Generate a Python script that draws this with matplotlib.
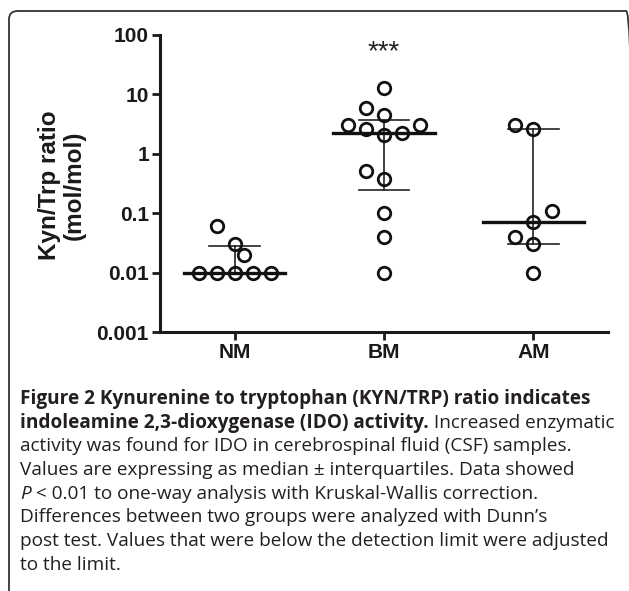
import matplotlib
matplotlib.use("Agg")
import matplotlib.pyplot as plt
from matplotlib.patches import FancyBboxPatch

# groups and raw values (mol/mol)
groups = ["NM", "BM", "AM"]
nm_vals = [0.06, 0.03, 0.02, 0.01, 0.01, 0.01, 0.01, 0.01]
nm_offs = [-0.12, 0.0, 0.065, -0.24, -0.12, 0.0, 0.12, 0.24]
bm_vals = [13, 6, 4.5, 3.0, 2.6, 2.1, 2.2, 3.0, 0.52, 0.38, 0.1, 0.04, 0.01]
bm_offs = [0.0, -0.12, 0.0, -0.24, -0.12, 0.0, 0.12, 0.24, -0.12, 0.0, 0.0, 0.0, 0.0]
am_vals = [3.1, 2.6, 0.11, 0.07, 0.04, 0.03, 0.01]
am_offs = [-0.12, 0.0, 0.125, 0.0, -0.12, 0.0, 0.0]

medians = [0.01, 2.26, 0.07]
q1 = [0.01, 0.25, 0.03]
q3 = [0.028, 3.7, 2.6]

yticks = [0.001, 0.01, 0.1, 1, 10, 100]
yticklabels = ["0.001", "0.01", "0.1", "1", "10", "100"]

W, H = 629, 591
fig = plt.figure(figsize=(W / 100, H / 100), dpi=100)

# rounded frame
box = FancyBboxPatch((9 / W, -20 / H), 626 / W, (H + 20 - 11) / H,
                     boxstyle="round,pad=0,rounding_size=0.014",
                     transform=fig.transFigure, fill=False,
                     edgecolor="#333333", linewidth=1.3, clip_on=False)
fig.patches.append(box)

ax = fig.add_axes([160 / W, (H - 332) / H, (608 - 160) / W, (332 - 35) / H])
ax.set_yscale("log")
ax.set_ylim(0.001, 100)
ax.set_xlim(0.5, 3.5)

allvals = [nm_vals, bm_vals, am_vals]
alloffs = [nm_offs, bm_offs, am_offs]
for i in range(3):
    x0 = i + 1
    # median / interquartile lines
    ax.plot([x0, x0], [q1[i], q3[i]], color="#222222", lw=1.2, zorder=2)
    ax.plot([x0 - 0.17, x0 + 0.17], [q1[i], q1[i]], color="#222222", lw=1.2, zorder=2)
    ax.plot([x0 - 0.17, x0 + 0.17], [q3[i], q3[i]], color="#222222", lw=1.2, zorder=2)
    ax.plot([x0 - 0.34, x0 + 0.34], [medians[i], medians[i]], color="#111111", lw=2.4, zorder=2)
    xs = [x0 + o for o in alloffs[i]]
    ax.plot(xs, allvals[i], linestyle="none", marker="o", markersize=9,
            markerfacecolor="none", markeredgecolor="#111111", markeredgewidth=2.0, zorder=3)

ax.text(2, 52, "***", ha="center", va="center", fontsize=20, family="Liberation Sans",
        color="#222222")

for s in ["top", "right"]:
    ax.spines[s].set_visible(False)
for s in ["left", "bottom"]:
    ax.spines[s].set_linewidth(2.2)
    ax.spines[s].set_color("#1a1a1a")

ax.set_yticks(yticks)
ax.set_yticklabels(yticklabels)
ax.yaxis.set_minor_locator(matplotlib.ticker.NullLocator())
ax.set_xticks([1, 2, 3])
ax.set_xticklabels(groups)
ax.tick_params(axis="both", length=6, width=2.0, color="#1a1a1a", pad=2)
for lab in ax.get_xticklabels() + ax.get_yticklabels():
    lab.set_fontfamily("Liberation Sans")
    lab.set_fontweight("bold")
    lab.set_fontsize(15)
    lab.set_color("#1a1a1a")

fig.text(62 / W, 1 - 185 / H, "Kyn/Trp ratio\n(mol/mol)", rotation=90, ha="center",
         va="center", fontsize=17.5, fontweight="bold", family="Liberation Sans",
         color="#1a1a1a", linespacing=1.1)

# caption, drawn piece by piece so weights can change inside a line
caption = [
    [("Figure 2 Kynurenine to tryptophan (KYN/TRP) ratio indicates", "bold", "normal")],
    [("indoleamine 2,3-dioxygenase (IDO) activity.", "bold", "normal"),
     (" Increased enzymatic", "normal", "normal")],
    [("activity was found for IDO in cerebrospinal fluid (CSF) samples.", "normal", "normal")],
    [("Values are expressing as median \u00b1 interquartiles. Data showed", "normal", "normal")],
    [("P", "normal", "italic"), (" < 0.01 to one-way analysis with Kruskal-Wallis correction.", "normal", "normal")],
    [("Differences between two groups were analyzed with Dunn\u2019s", "normal", "normal")],
    [("post test. Values that were below the detection limit were adjusted", "normal", "normal")],
    [("to the limit.", "normal", "normal")],
]
renderer = fig.canvas.get_renderer()
y0 = 404
for k, line in enumerate(caption):
    x = 20
    y = y0 + k * 23.7
    for txt, wt, st in line:
        t = fig.text(x / W, 1 - y / H, txt, fontsize=13.7, fontweight=wt, fontstyle=st,
                     family="Open Sans", color="#231f20", ha="left", va="baseline")
        bb = t.get_window_extent(renderer=renderer)
        x += bb.width

fig.savefig("out.png", dpi=100)
